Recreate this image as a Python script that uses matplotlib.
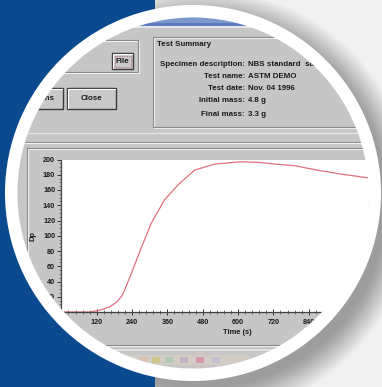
import numpy as np
import matplotlib
matplotlib.use("Agg")
import matplotlib.pyplot as plt
from matplotlib.patches import Rectangle, Circle, Annulus, PathPatch
from matplotlib.path import Path

W, H = 382, 387

# data
time_s = [0, 60, 100, 137, 165, 188, 205, 215, 238, 272, 306, 350, 397, 452,
          520, 610, 678, 722, 790, 870, 948, 1040]
dp = [0, 0, 0, 3, 7, 13, 21, 29, 51, 85, 117, 147, 167, 186,
      194, 197, 196, 194, 192, 186, 181, 176]
y_ticks = list(range(0, 201, 20))
x_ticks = [120, 240, 360, 480, 600, 720, 840, 960]

summary_labels = ["Specimen description:", "Test name:", "Test date:",
                  "Initial mass:", "Final mass:"]
summary_values = ["NBS standard  sample", "ASTM DEMO", "Nov. 04 1996",
                  "4.8 g", "3.3 g"]

FONT = "Liberation Sans"

fig = plt.figure(figsize=(W / 100, H / 100), dpi=100)


def px_axes(x0, y0, x1, y1, **kw):
    return fig.add_axes([x0 / W, 1 - y1 / H, (x1 - x0) / W, (y1 - y0) / H], **kw)


# ---- window background (pixel coords, y down)
bg = px_axes(0, 0, W, H)
bg.set_xlim(0, W)
bg.set_ylim(H, 0)
bg.axis("off")
bg.add_patch(Rectangle((0, 0), W, H, fc="#c6c6c6", ec="none"))
bg.add_patch(Rectangle((0, 0), W, 26, fc="#5a7bbd", ec="none"))
bg.add_patch(Rectangle((150, 18), 150, 5, fc="#7d98cc", ec="none"))
bg.plot([0, W], [27, 27], color="#ececec", lw=1.2)


def etched(x0, y0, x1, y1):
    bg.add_patch(Rectangle((x0 + 1, y0 + 1), x1 - x0, y1 - y0, fill=False, ec="#f2f2f2", lw=0.8))
    bg.add_patch(Rectangle((x0, y0), x1 - x0, y1 - y0, fill=False, ec="#8a8a8a", lw=0.8))


def button(x0, y0, x1, y1, label, focus=False):
    bg.add_patch(Rectangle((x0, y0), x1 - x0, y1 - y0, fc="#c9c9c9", ec="#3a3a3a", lw=1.0))
    bg.plot([x0 + 1.2, x0 + 1.2, x1 - 1.5], [y1 - 1.5, y0 + 1.2, y0 + 1.2], color="white", lw=0.8)
    if focus:
        bg.add_patch(Rectangle((x0 + 2.5, y0 + 2.5), x1 - x0 - 5, y1 - y0 - 5, fill=False,
                               ec="#b0607a", lw=0.6, ls=(0, (1, 1))))
    bg.text((x0 + x1) / 2, (y0 + y1) / 2 + 0.5, label, ha="center", va="center",
            fontsize=5.7, fontweight="bold", family=FONT, color="#1a1a1a")


etched(-5, 40, 138, 72)
button(112, 53, 133, 69, "File", focus=True)
button(17, 88, 63, 109, "Options")
button(67, 88, 116, 109, "Close")

etched(153, 37, 420, 127)
bg.text(157, 45, "Test Summary", ha="left", va="center", fontsize=5.7,
        fontweight="bold", family=FONT, color="#1a1a1a")
rows_y = [64, 76, 89, 101, 114]
for yy, lab, val in zip(rows_y, summary_labels, summary_values):
    bg.text(245, yy, lab, ha="right", va="center", fontsize=5.7,
            fontweight="bold", family=FONT, color="#1a1a1a")
    bg.text(248, yy, val, ha="left", va="center", fontsize=5.7,
            fontweight="bold", family=FONT, color="#1a1a1a")

bg.plot([0, W], [133, 133], color="#e2e2e2", lw=1.0)
bg.plot([0, W], [142, 142], color="#8e8e8e", lw=0.8)
bg.plot([0, W], [143, 143], color="#f0f0f0", lw=0.8)
etched(27, 148, 420, 345)
bg.plot([0, W], [350, 350], color="#e6e6e6", lw=1.2)
bg.add_patch(Rectangle((130, 355), 120, 10, fc="#d4cfc4", ec="none", alpha=0.8))
for xx, c in [(140, "#e8b8a0"), (152, "#d0c070"), (165, "#a0c8a8"),
              (180, "#c0a0c0"), (196, "#e070a0"), (212, "#b8b8d8")]:
    bg.add_patch(Rectangle((xx, 357), 8, 6, fc=c, ec="none", alpha=0.6))

bg.text(237, 333, "Time (s)", ha="center", va="center", fontsize=5.4,
        fontweight="bold", family=FONT, color="#1a1a1a")
bg.text(33, 236, "Dp", ha="center", va="center", rotation=90, fontsize=5.4,
        fontweight="bold", family=FONT, color="#1a1a1a")

# ---- plot area
ax = px_axes(61.4, 159.5, 379.4, 312)
ax.set_facecolor("white")
ax.plot(time_s, dp, color="#e0707e", lw=0.9)
ax.set_xlim(0, 1080)
ax.set_ylim(0, 200)
ax.set_yticks(y_ticks)
ax.set_xticks(x_ticks)
ax.set_yticks(np.arange(0, 201, 5), minor=True)
ax.set_xticks(np.arange(0, 1081, 24), minor=True)
for s in ["top", "right"]:
    ax.spines[s].set_visible(False)
for s in ["left", "bottom"]:
    ax.spines[s].set_color("#444444")
    ax.spines[s].set_linewidth(0.9)
ax.tick_params(axis="y", which="major", direction="out", length=3, width=0.7,
               color="#333333", pad=1.5)
ax.tick_params(axis="y", which="minor", direction="out", length=1.5, width=0.5, color="#555555")
ax.tick_params(axis="x", which="major", direction="inout", length=4, width=0.7,
               color="#333333", pad=3)
ax.tick_params(axis="x", which="minor", direction="inout", length=2.5, width=0.6, color="#555555")
for lab in ax.get_xticklabels() + ax.get_yticklabels():
    lab.set_fontsize(5.2)
    lab.set_fontweight("bold")
    lab.set_family(FONT)
    lab.set_color("#1a1a1a")

# ---- round frame on top
ov = px_axes(0, 0, W, H)
ov.set_xlim(0, W)
ov.set_ylim(H, 0)
ov.axis("off")
ov.patch.set_alpha(0)

cx, cy, r_in, r_out = 193, 193, 176, 188
th = np.linspace(0, 2 * np.pi, 361)
circ = np.column_stack([cx + r_in * np.cos(th), cy + r_in * np.sin(th)])[::-1]
rect = np.array([[0, 0], [W, 0], [W, H], [0, H], [0, 0]])
verts = np.vstack([rect, circ])
codes = ([Path.MOVETO] + [Path.LINETO] * 3 + [Path.CLOSEPOLY]
         + [Path.MOVETO] + [Path.LINETO] * (len(circ) - 2) + [Path.CLOSEPOLY])
hole = Path(verts, codes)

light = PathPatch(hole, fc="#f1f1f1", ec="none")
ov.add_patch(light)
# soft drop shadow, lower right
for k in range(1, 31):
    sh = Circle((cx + 8, cy + 10), r_out - 4 + k * 1.0, fc="black", ec="none", alpha=0.012)
    ov.add_patch(sh)
    sh.set_clip_path(light)

blue = PathPatch(hole, fc="#0b4a8f", ec="none")
ov.add_patch(blue)
blue.set_clip_path(Rectangle((0, 0), 155, H, transform=ov.transData))

ov.add_patch(Annulus((cx, cy), r_out, r_out - r_in + 0.5, fc="white", ec="none"))

fig.savefig("out.png", dpi=100)
